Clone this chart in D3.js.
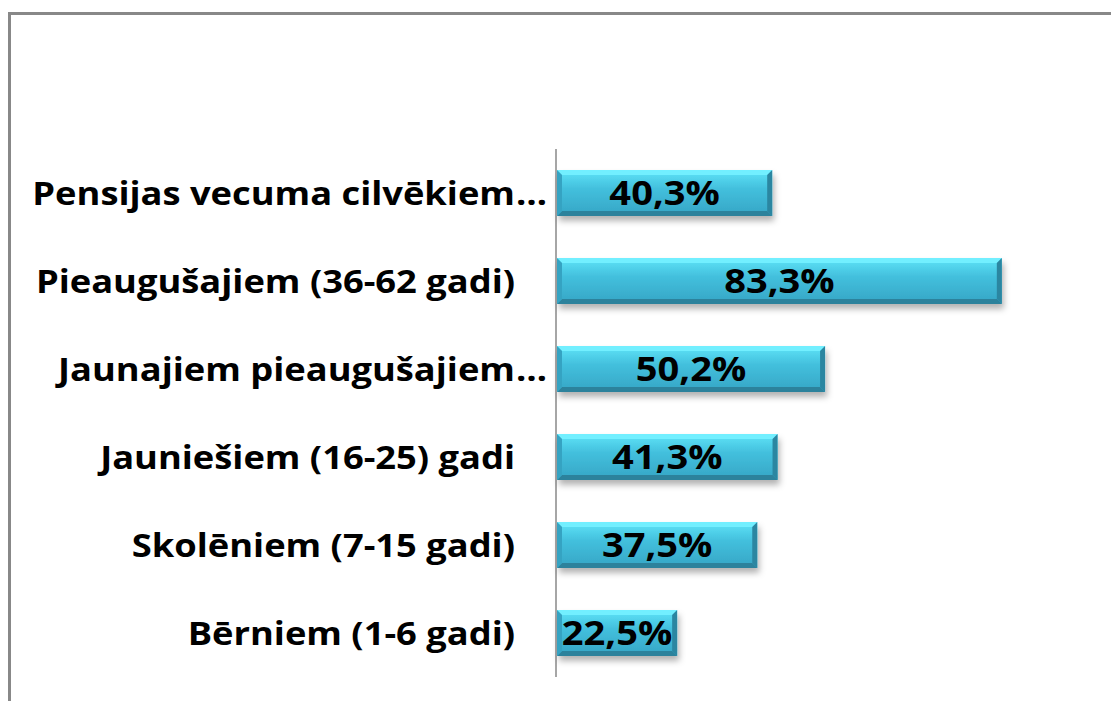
<!DOCTYPE html>
<html>
<head>
<meta charset="utf-8">
<script src="https://cdn.jsdelivr.net/npm/d3@7"></script>
<style>
  body { margin: 0; background: #fff; }
  text { font-family: "Open Sans", sans-serif; font-weight: 700; }
</style>
</head>
<body>
<div id="chart-area"></div>
<script>
var width = 1111;
var height = 701;

// categories top to bottom, as shown in the chart
var categories = [
    "Pensijas vecuma cilvēkiem",
    "Pieaugušajiem (36-62 gadi)",
    "Jaunajiem pieaugušajiem",
    "Jauniešiem (16-25) gadi",
    "Skolēniem (7-15 gadi)",
    "Bērniem (1-6 gadi)"
];
var truncated = [true, false, true, false, false, false];
var values = [40.3, 83.3, 50.2, 41.3, 37.5, 22.5];
var valueLabels = ["40,3%", "83,3%", "50,2%", "41,3%", "37,5%", "22,5%"];

var data = categories.map((c, i) => ({ cat: c, value: values[i], label: valueLabels[i], cut: truncated[i] }));

var svg = d3.select("#chart-area").append("svg")
    .attr("width", width)
    .attr("height", height);

var defs = svg.append("defs");

var grad = defs.append("linearGradient")
    .attr("id", "barGrad")
    .attr("x1", 0).attr("y1", 0).attr("x2", 0).attr("y2", 1);
grad.append("stop").attr("offset", "0%").attr("stop-color", "#5fe4f8");
grad.append("stop").attr("offset", "40%").attr("stop-color", "#43c0dd");
grad.append("stop").attr("offset", "100%").attr("stop-color", "#35a5c5");

var shadow = defs.append("filter")
    .attr("id", "shadow")
    .attr("x", "-5%").attr("y", "-20%").attr("width", "115%").attr("height", "170%");
shadow.append("feDropShadow")
    .attr("dx", 2).attr("dy", 5)
    .attr("stdDeviation", 3)
    .attr("flood-color", "#000")
    .attr("flood-opacity", 0.3);

svg.append("rect")
    .attr("width", width).attr("height", height)
    .attr("fill", "#fff");

// chart frame (runs off the right and bottom edges)
svg.append("rect")
    .attr("x", 9.5).attr("y", 13.5)
    .attr("width", 1130).attr("height", 720)
    .attr("fill", "none")
    .attr("stroke", "#888")
    .attr("stroke-width", 3);

var x = d3.scaleLinear()
    .domain([0, 100])
    .range([557, 1091]);

var y = d3.scaleBand()
    .domain(categories)
    .range([149, 677])
    .paddingInner(0.48)
    .paddingOuter(0.24);

// vertical category axis line
svg.append("line")
    .attr("x1", 556).attr("x2", 556)
    .attr("y1", y.range()[0]).attr("y2", y.range()[1])
    .attr("stroke", "#888")
    .attr("stroke-width", 1.5);

var bev = 5;
var bars = svg.selectAll("g.bar").data(data).enter().append("g")
    .attr("class", "bar");

bars.append("rect")
    .attr("x", x(0))
    .attr("y", d => y(d.cat))
    .attr("width", d => x(d.value) - x(0))
    .attr("height", y.bandwidth())
    .attr("fill", "url(#barGrad)")
    .attr("filter", "url(#shadow)");

function poly(pts) { return pts.map(p => p.join(",")).join(" "); }

// bevel edges
bars.append("polygon")
    .attr("points", d => {
        var x0 = x(0), x1 = x(d.value), y0 = y(d.cat);
        return poly([[x0, y0], [x1, y0], [x1 - bev, y0 + bev], [x0 + bev, y0 + bev]]);
    })
    .attr("fill", "#72efff");
bars.append("polygon")
    .attr("points", d => {
        var x0 = x(0), x1 = x(d.value), y1 = y(d.cat) + y.bandwidth();
        return poly([[x0, y1], [x1, y1], [x1 - bev, y1 - bev], [x0 + bev, y1 - bev]]);
    })
    .attr("fill", "#2c829c");
bars.append("polygon")
    .attr("points", d => {
        var x0 = x(0), y0 = y(d.cat), y1 = y0 + y.bandwidth();
        return poly([[x0, y0], [x0 + bev, y0 + bev], [x0 + bev, y1 - bev], [x0, y1]]);
    })
    .attr("fill", "#35a3c2");
bars.append("polygon")
    .attr("points", d => {
        var x1 = x(d.value), y0 = y(d.cat), y1 = y0 + y.bandwidth();
        return poly([[x1, y0], [x1 - bev, y0 + bev], [x1 - bev, y1 - bev], [x1, y1]]);
    })
    .attr("fill", "#2b86a1");

// value labels
bars.append("text")
    .attr("x", d => (x(0) + x(d.value)) / 2)
    .attr("y", d => y(d.cat) + y.bandwidth() / 2)
    .attr("dy", "0.36em")
    .attr("text-anchor", "middle")
    .attr("font-size", 34)
    .attr("fill", "#000")
    .attr("transform", d => {
        var cx = (x(0) + x(d.value)) / 2;
        return "translate(" + cx + ",0) scale(1.12,1) translate(" + (-cx) + ",0)";
    })
    .text(d => d.label);

// category labels, right aligned
var labelX = 515;
var labels = svg.selectAll("g.cat").data(data).enter().append("g")
    .attr("class", "cat")
    .attr("transform", d => "translate(" + labelX + "," + (y(d.cat) + y.bandwidth() / 2) + ") scale(1.1,1)");

labels.append("text")
    .attr("text-anchor", "end")
    .attr("dy", "0.36em")
    .attr("font-size", 33)
    .attr("fill", "#000")
    .text(d => d.cat);

labels.filter(d => d.cut).append("text")
    .attr("x", 1)
    .attr("dy", "0.36em")
    .attr("font-size", 33)
    .attr("fill", "#000")
    .text("\u2026");
</script>
</body>
</html>
